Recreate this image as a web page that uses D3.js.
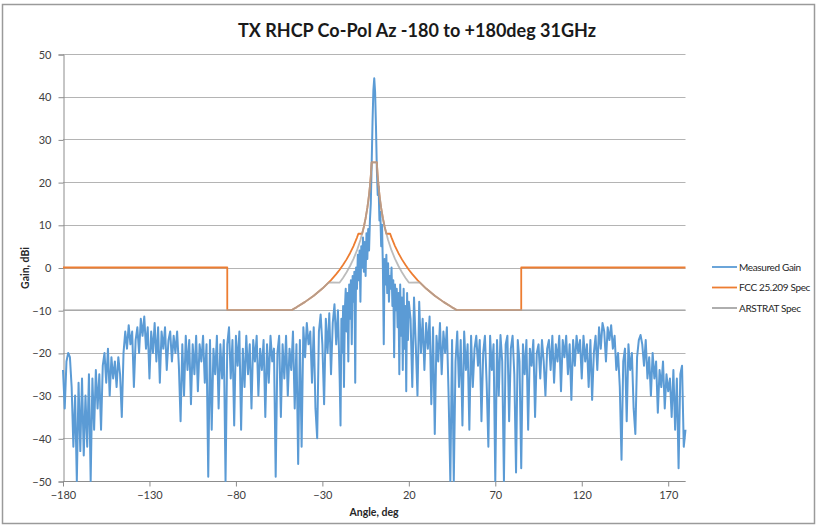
<!DOCTYPE html>
<html><head><meta charset="utf-8">
<script src="https://cdn.jsdelivr.net/npm/d3@7"></script>
<style>body{margin:0;background:#fff;} svg{display:block;font-family:Lato,"Open Sans",sans-serif;}</style>
</head><body>
<svg id="c" width="819" height="527"></svg>
<script>
// ---- data ----
const title = "TX RHCP Co-Pol Az -180 to +180deg 31GHz";
const xTicks = [-180,-130,-80,-30,20,70,120,170];
const yTicks = [-50,-40,-30,-20,-10,0,10,20,30,40,50];
const seriesNames = ["Measured Gain","FCC 25.209 Spec","ARSTRAT Spec"];

// measured gain, -180..-21 step 1
const gainLeftStart = -180, gainLeftStep = 1;
const gainLeft = [-24,-33,-22,-20,-21,-28,-42,-30,-50,-27,-43,-26,-44,-30,-42,-25,-50,-26,-38,-24,
-33,-25,-38,-23,-20,-27,-19,-30,-21,-26,-22,-28,-21,-25,-35,-20,-15,-19,-13.5,-18,
-15,-28,-17,-14,-20,-12,-16,-11.5,-19,-14,-26,-15,-20,-13,-22,-14,-27,-15,-19,-14,
-24,-17,-15,-22,-16,-20,-15,-23,-36,-18,-30,-16,-24,-17,-32,-18,-25,-16,-29,-18,
-22,-16,-27,-18,-49,-17,-38,-19,-25,-16,-33,-18,-26,-17,-50,-18,-14,-26,-17,-37,
-16,-23,-15,-38,-19,-28,-16,-25,-18,-33,-17,-22,-16,-30,-19,-24,-17,-35,-18,-27,
-16,-22,-19,-49,-20,-16,-35,-18,-26,-16,-30,-19,-24,-15,-33,-18,-46,-17,-42,-14,
-21,-13,-18,-15,-27,-14,-33,-40,-15,-11,-18,-32,-12,-20,-10.7,-25,-13,-8.6,-18,-10];
// measured gain, -20..20 step 0.5
const gainCenterStart = -20, gainCenterStep = 0.5;
const gainCenter = [-26,-37,-12,-20,-9,-28,-10,-5,-15,-6,-22,-4,-12,-3,-18,-2,-8,-1,-27,0,
-5,3,-3,4,-8,5,0,7,-1,6,-2,8,2,9,4,11,15,24,34,41.5,
44.3,41,33,23,17,19,11,13,5,10,0,-18,2,-4,3,-6,1,-8,-2,-5,
0,-9,-3,-21,-4,-10,-5,-14,-6,-25,-4,-16,-7,-24,-5,-19,-9,-29,-6,-17,-8];
// measured gain, 21..180 step 1
const gainRightStart = 21, gainRightStep = 1;
const gainRight = [-12,-28,-7,-18,-30,-8,-20,-12,-24,-13,-19,-11.5,-32,-14,-39,-16,-22,-13,-25,-15,
-20,-14,-30,-50,-17,-50,-22,-15,-28,-17,-37,-15,-24,-18,-38,-16,-28,-19,-16,-23,
-17,-36,-20,-16,-27,-42,-16,-24,-18,-50,-17,-30,-15.8,-22,-50,-18,-16,-36,-19,-16,
-25,-48,-17,-22,-47,-18,-25,-17,-38,-19,-23,-17,-35,-20,-18,-26,-17,-22,-30,-19,
-17,-24,-16,-27,-18,-22,-16,-29,-17,-21,-16,-25,-18,-31,-17,-23,-16,-20,-17,-26,
-16,-22,-18,-28,-17,-31,-20,-16,-24,-14,-19,-13,-15,-22,-14,-17,-13.5,-19,-16,-24,
-20,-28,-45,-22,-19,-36,-18,-24,-20,-33,-39,-21,-17,-15.8,-18,-23,-17,-26,-21,-30,
-20,-26,-22,-34,-24,-28,-22,-33,-25,-29,-26,-35,-24,-38,-26,-47,-25,-23,-42,-38];

// FCC 25.209 spec (angle, dBi)
const fccAngle = [-180,-85,-85,-48,-45,-40,-35,-30,-25,-22,-20,-18,-16,-14,-12,-10,-9.2,-7,-6,-5,-4,-3.5,-3,-2.5,-2,-1.75,-1.5,
 1.5,1.75,2,2.5,3,3.5,4,5,6,7,9.2,10,12,14,16,18,20,22,25,30,35,40,45,48,85,85,180];
const fccGain = [0,0,-10,-10,-9.33,-8.05,-6.6,-4.93,-2.95,-1.56,-0.53,0.62,1.9,3.35,5.02,7,7.9,7.9,9.55,11.53,13.95,15.4,17.07,19.05,21.47,22.92,24.6,
 24.6,22.92,21.47,19.05,17.07,15.4,13.95,11.53,9.55,7.9,7.9,7,5.02,3.35,1.9,0.62,-0.53,-1.56,-2.95,-4.93,-6.6,-8.05,-9.33,-10,-10,0,0];
// ARSTRAT spec (angle, dBi)
const arsAngle = [-180,-48,-45,-40,-35,-30,-26.3,-20,-18,-16,-14,-12,-10,-8,-6,-5,-4,-3,-2.5,-2,-1.5,
 1.5,2,2.5,3,4,5,6,8,10,12,14,16,18,20,26.3,30,35,40,45,48,180];
const arsGain = [-10,-10,-9.33,-8.05,-6.6,-4.93,-3.5,-3.53,-2.38,-1.1,0.35,2.02,4,6.42,9.55,11.53,13.95,17.07,19.05,21.47,24.6,
 24.6,21.47,19.05,17.07,13.95,11.53,9.55,6.42,4,2.02,0.35,-1.1,-2.38,-3.53,-3.5,-4.93,-6.6,-8.05,-9.33,-10,-10];

const colors = ["#5b9bd5","#ed7d31","#a5a5a5"];

// ---- build ----
const measured = [];
gainLeft.forEach((v,i)=>measured.push([gainLeftStart+i*gainLeftStep, v]));
gainCenter.forEach((v,i)=>measured.push([gainCenterStart+i*gainCenterStep, v]));
gainRight.forEach((v,i)=>measured.push([gainRightStart+i*gainRightStep, v]));
const fcc = fccAngle.map((a,i)=>[a, fccGain[i]]);
const ars = arsAngle.map((a,i)=>[a, arsGain[i]]);

const svg = d3.select("#c");
const L = 63, R = 685.5, T = 54, B = 481;
const x = d3.scaleLinear().domain([-180,180]).range([L,R]);
const y = d3.scaleLinear().domain([-50,50]).range([B,T]);

svg.append("rect").attr("x",2.5).attr("y",4.5).attr("width",812).attr("height",519)
  .attr("fill","#fff").attr("stroke","#9a9a9a").attr("stroke-width",1.5);

// gridlines
svg.append("g").selectAll("line").data(yTicks).join("line")
  .attr("x1",L).attr("x2",R).attr("y1",d=>Math.round(y(d))+0.5).attr("y2",d=>Math.round(y(d))+0.5)
  .attr("stroke","#b4b4b4").attr("stroke-width",1);

// axes
const yAxis = d3.axisLeft(y).tickValues(yTicks).tickSize(5).tickPadding(7).tickFormat(d3.format("d"));
const gy = svg.append("g").attr("transform",`translate(${L+0.5},0.5)`).call(yAxis);
const xAxis = d3.axisBottom(x).tickValues(xTicks).tickSize(5).tickPadding(5).tickFormat(d3.format("d"));
const gx = svg.append("g").attr("transform",`translate(0,${Math.round(B)+0.5})`).call(xAxis);
[gx,gy].forEach(g=>{
  g.select(".domain").attr("stroke","#8c8c8c");
  g.selectAll(".tick line").attr("stroke","#8c8c8c");
  g.selectAll(".tick text").attr("font-family","Lato, 'Open Sans', sans-serif").attr("font-size",11).attr("fill","#404040");
});
gx.select(".domain").attr("d",`M${L},0H${R}`);

const line = d3.line().x(d=>x(d[0])).y(d=>y(d[1]));
const plot = svg.append("g");
plot.append("path").datum(measured).attr("d",line).attr("fill","none")
  .attr("stroke",colors[0]).attr("stroke-width",2).attr("stroke-linejoin","round");
plot.append("path").datum(fcc).attr("d",line).attr("fill","none")
  .attr("stroke",colors[1]).attr("stroke-width",1.8).attr("stroke-linejoin","round");
plot.append("path").datum(ars).attr("d",line).attr("fill","none")
  .attr("stroke",colors[2]).attr("stroke-width",1.8).attr("stroke-opacity",0.75).attr("stroke-linejoin","round");

// title
svg.append("text").attr("x",417).attr("y",37).attr("text-anchor","middle")
  .attr("font-size",18).attr("font-weight","bold").attr("fill","#1a1a1a").text(title);
// axis titles
svg.append("text").attr("x",374).attr("y",516).attr("text-anchor","middle")
  .attr("font-size",10.5).attr("font-weight","bold").attr("fill","#262626").text("Angle, deg");
svg.append("text").attr("transform","translate(29,268) rotate(-90)").attr("text-anchor","middle")
  .attr("font-size",10.5).attr("font-weight","bold").attr("fill","#262626").text("Gain, dBi");

// legend
const lg = svg.append("g");
seriesNames.forEach((n,i)=>{
  const yy = 267 + i*20.5;
  lg.append("line").attr("x1",712).attr("x2",737).attr("y1",yy).attr("y2",yy)
    .attr("stroke",colors[i]).attr("stroke-width",1.8);
  lg.append("text").attr("x",739).attr("y",yy+3.5).attr("font-size",10)
    .attr("letter-spacing",-0.35).attr("fill","#262626").text(n);
});
</script>
</body></html>
